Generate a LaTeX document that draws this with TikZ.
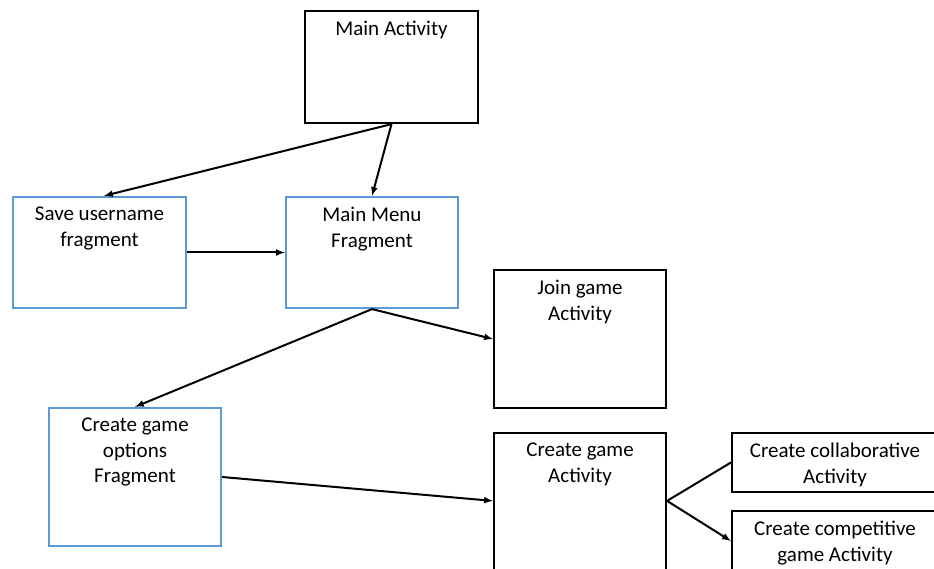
\documentclass[tikz,border=0pt]{standalone}
\usepackage{fontspec}
\setmainfont{Carlito}
\usetikzlibrary{arrows}

\definecolor{fragblue}{RGB}{91,155,213}

\tikzset{
  actbox/.style={draw=black, line width=2.2pt, rectangle, inner sep=0pt},
  fragbox/.style={draw=fragblue, line width=2.2pt, rectangle, inner sep=0pt},
  boxtext/.style={anchor=north, align=center, inner sep=3pt, yshift=-8pt,
    font=\fontsize{21}{25.5}\selectfont},
  flow/.style={line width=2pt}
}

\begin{document}
\begin{tikzpicture}[x=1pt, y=-1pt, >=latex]

  \useasboundingbox (0,0) rectangle (934,569);
  \clip (0,0) rectangle (934,569);

  % activities and fragments
  \node[actbox, minimum width=173pt, minimum height=112pt,
        label={[boxtext]north:Main Activity}] (ma) at (391.5,67) {};
  \node[fragbox, minimum width=173pt, minimum height=111pt,
        label={[boxtext]north:Save username\\fragment}] (su) at (99.5,252.5) {};
  \node[fragbox, minimum width=172pt, minimum height=111pt,
        label={[boxtext]north:Main Menu\\Fragment}] (mm) at (372,252.5) {};
  \node[actbox, minimum width=172pt, minimum height=138pt,
        label={[boxtext]north:Join game\\Activity}] (jg) at (580,339) {};
  \node[fragbox, minimum width=172pt, minimum height=138pt,
        label={[boxtext]north:Create game\\options\\Fragment}] (co) at (135,477) {};
  \node[actbox, minimum width=172pt, minimum height=167pt,
        label={[boxtext]north:Create game\\Activity}] (cg) at (580,516.5) {};
  \node[actbox, minimum width=206pt, minimum height=59pt,
        label={[boxtext]north:Create collaborative\\Activity}] (cc) at (835,462.5) {};
  \node[actbox, minimum width=206pt, minimum height=60pt,
        label={[boxtext]north:Create competitive\\game Activity}] (cp) at (835,541) {};

  \coordinate (cgin)  at ([yshift=-69pt]cg.north west);
  \coordinate (cgout) at ([yshift=-69pt]cg.north east);
  \coordinate (suin)  at ([xshift=4.5pt]su.north);

  % connectors
  \draw[->, flow] (ma.south) -- (suin);
  \draw[->, flow] (ma.south) -- (mm.north);
  \draw[->, flow] (su.east) -- (mm.west);
  \draw[->, flow] (mm.south) -- (co.north);
  \draw[->, flow] (mm.south) -- (jg.west);
  \draw[->, flow] (co.east) -- (cgin);
  \draw[flow]     (cgout) -- (cc.west);
  \draw[->, flow] (cgout) -- (cp.west);

\end{tikzpicture}
\end{document}
